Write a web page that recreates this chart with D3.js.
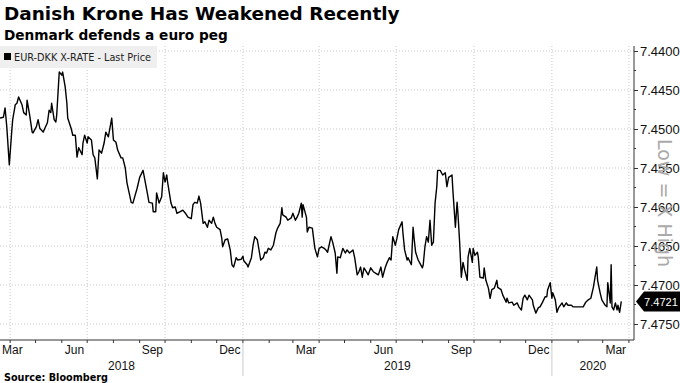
<!DOCTYPE html>
<html><head><meta charset="utf-8">
<script src="https://cdn.jsdelivr.net/npm/d3@7"></script>
<style>body{margin:0;background:#fff}svg{display:block}</style>
</head><body><svg id="c" width="680" height="383"></svg>
<script>
const title = "Danish Krone Has Weakened Recently";
const subtitle = "Denmark defends a euro peg";
const seriesName = "EUR-DKK X-RATE - Last Price";
const sourceText = "Source: Bloomberg";
const invertNote = "Low = X High";
const yTicks = [7.4400, 7.4450, 7.4500, 7.4550, 7.4600, 7.4650, 7.4700, 7.4750];
const yMinorTicks = [7.4425, 7.4475, 7.4525, 7.4575, 7.4625, 7.4675, 7.4725];
const labelMonths = ["Mar", "Jun", "Sep", "Dec"];
const years = ["2018", "2019", "2020"];
const domainStart = "2018-03-20", domainEnd = "2020-04-07";
const lastValue = 7.4721;

const dates = [
"2018-03-20","2018-03-24","2018-03-26","2018-03-28","2018-03-31","2018-04-03","2018-04-04","2018-04-07","2018-04-09","2018-04-11",
"2018-04-15","2018-04-17","2018-04-20","2018-04-21","2018-04-24","2018-04-27","2018-04-28","2018-05-02","2018-05-04","2018-05-06",
"2018-05-10","2018-05-12","2018-05-15","2018-05-17","2018-05-19","2018-05-20","2018-05-23","2018-05-25","2018-05-26","2018-05-29",
"2018-06-01","2018-06-02","2018-06-05","2018-06-07","2018-06-08","2018-06-12","2018-06-14","2018-06-17","2018-06-19","2018-06-21",
"2018-06-25","2018-06-26","2018-06-28","2018-07-01","2018-07-02","2018-07-06","2018-07-08","2018-07-10","2018-07-13","2018-07-15",
"2018-07-18","2018-07-21","2018-07-23","2018-07-26","2018-07-30","2018-08-01","2018-08-04","2018-08-06","2018-08-10","2018-08-12",
"2018-08-15","2018-08-17","2018-08-22","2018-08-24","2018-08-29","2018-09-01","2018-09-05","2018-09-10","2018-09-12","2018-09-16",
"2018-09-17","2018-09-20","2018-09-21","2018-09-24","2018-09-27","2018-09-29","2018-10-01","2018-10-03","2018-10-04","2018-10-08",
"2018-10-10","2018-10-13","2018-10-15","2018-10-19","2018-10-22","2018-10-25","2018-10-28","2018-11-01","2018-11-03","2018-11-05",
"2018-11-08","2018-11-10","2018-11-12","2018-11-15","2018-11-17","2018-11-20","2018-11-22","2018-11-25","2018-11-27","2018-11-29",
"2018-12-01","2018-12-05","2018-12-07","2018-12-08","2018-12-11","2018-12-14","2018-12-17","2018-12-19","2018-12-21","2018-12-24",
"2018-12-26","2018-12-30","2019-01-01","2019-01-02","2019-01-06","2019-01-07","2019-01-11","2019-01-13","2019-01-15","2019-01-18",
"2019-01-20","2019-01-22","2019-01-25","2019-01-27","2019-01-29","2019-01-31","2019-02-03","2019-02-06","2019-02-09","2019-02-11",
"2019-02-14","2019-02-16","2019-02-17","2019-02-21","2019-02-23","2019-02-27","2019-03-01","2019-03-04","2019-03-06","2019-03-08",
"2019-03-11","2019-03-12","2019-03-13","2019-03-17","2019-03-18","2019-03-20","2019-03-24","2019-03-25","2019-03-27","2019-03-30",
"2019-04-01","2019-04-04","2019-04-07","2019-04-09","2019-04-11","2019-04-15","2019-04-17","2019-04-20","2019-04-22","2019-04-23",
"2019-04-26","2019-04-29","2019-05-02","2019-05-04","2019-05-07","2019-05-11","2019-05-13","2019-05-16","2019-05-18","2019-05-20",
"2019-05-22","2019-05-24","2019-05-28","2019-05-29","2019-06-01","2019-06-04","2019-06-07","2019-06-10","2019-06-13","2019-06-15",
"2019-06-18","2019-06-20","2019-06-23","2019-06-25","2019-06-27","2019-06-30","2019-07-02","2019-07-04","2019-07-08","2019-07-09",
"2019-07-11","2019-07-14","2019-07-15","2019-07-19","2019-07-21","2019-07-22","2019-07-24","2019-07-27","2019-07-29","2019-08-01",
"2019-08-02","2019-08-04","2019-08-06","2019-08-08","2019-08-10","2019-08-12","2019-08-14","2019-08-16","2019-08-18","2019-08-19",
"2019-08-22","2019-08-25","2019-08-28","2019-08-30","2019-09-01","2019-09-05","2019-09-06","2019-09-09","2019-09-11","2019-09-12",
"2019-09-14","2019-09-16","2019-09-18","2019-09-20","2019-09-23","2019-09-24","2019-09-26","2019-09-29","2019-09-30","2019-10-02",
"2019-10-05","2019-10-06","2019-10-08","2019-10-12","2019-10-13","2019-10-15","2019-10-18","2019-10-20","2019-10-22","2019-10-25",
"2019-10-28","2019-10-29","2019-11-02","2019-11-04","2019-11-08","2019-11-09","2019-11-11","2019-11-15","2019-11-17","2019-11-21",
"2019-11-23","2019-11-26","2019-11-28","2019-11-30","2019-12-03","2019-12-05","2019-12-09","2019-12-10","2019-12-13","2019-12-16",
"2019-12-18","2019-12-21","2019-12-24","2019-12-26","2019-12-27","2019-12-30","2020-01-01","2020-01-02","2020-01-05","2020-01-07",
"2020-01-09","2020-01-13","2020-01-15","2020-01-18","2020-01-20","2020-01-24","2020-01-26","2020-02-01","2020-02-07","2020-02-10",
"2020-02-13","2020-02-16","2020-02-19","2020-02-21","2020-02-23","2020-02-24","2020-02-27","2020-02-29","2020-03-04","2020-03-06",
"2020-03-07","2020-03-10","2020-03-11","2020-03-12","2020-03-14","2020-03-16","2020-03-18","2020-03-19","2020-03-21","2020-03-23"
];
const values = [
7.4486,7.4485,7.4473,7.4497,7.4546,7.4501,7.4488,7.4469,7.4467,7.4459,
7.4469,7.4479,7.4482,7.4463,7.4482,7.4504,7.4505,7.4497,7.4488,7.4499,
7.4504,7.4499,7.4492,7.4476,7.4479,7.4467,7.4488,7.4491,7.4482,7.4427,
7.4431,7.4427,7.4446,7.4467,7.4486,7.4499,7.4508,7.4508,7.4536,7.4524,
7.4533,7.4518,7.4508,7.4518,7.4510,7.4514,7.4533,7.4537,7.4564,7.4527,
7.4531,7.4518,7.4504,7.4510,7.4486,7.4514,7.4517,7.4527,7.4537,7.4537,
7.4550,7.4569,7.4594,7.4595,7.4576,7.4562,7.4553,7.4582,7.4594,7.4595,
7.4606,7.4606,7.4582,7.4595,7.4587,7.4556,7.4568,7.4559,7.4568,7.4595,
7.4601,7.4600,7.4608,7.4606,7.4604,7.4608,7.4613,7.4615,7.4597,7.4594,
7.4595,7.4586,7.4595,7.4621,7.4619,7.4626,7.4617,7.4621,7.4613,7.4621,
7.4626,7.4629,7.4640,7.4651,7.4642,7.4641,7.4655,7.4674,7.4677,7.4665,
7.4668,7.4667,7.4663,7.4669,7.4674,7.4677,7.4665,7.4649,7.4638,7.4642,
7.4655,7.4668,7.4665,7.4658,7.4659,7.4653,7.4655,7.4649,7.4633,7.4627,
7.4621,7.4601,7.4610,7.4613,7.4617,7.4614,7.4608,7.4617,7.4613,7.4608,
7.4595,7.4613,7.4597,7.4613,7.4632,7.4626,7.4627,7.4636,7.4653,7.4664,
7.4653,7.4651,7.4653,7.4655,7.4658,7.4638,7.4645,7.4659,7.4685,7.4664,
7.4665,7.4653,7.4659,7.4655,7.4659,7.4655,7.4665,7.4687,7.4683,7.4677,
7.4690,7.4678,7.4685,7.4687,7.4678,7.4683,7.4685,7.4687,7.4677,7.4690,
7.4678,7.4672,7.4665,7.4668,7.4638,7.4649,7.4640,7.4629,7.4619,7.4633,
7.4655,7.4668,7.4665,7.4674,7.4626,7.4638,7.4658,7.4668,7.4672,7.4678,
7.4674,7.4651,7.4638,7.4645,7.4617,7.4649,7.4645,7.4595,7.4574,7.4553,
7.4553,7.4559,7.4556,7.4574,7.4562,7.4559,7.4578,7.4626,7.4594,7.4608,
7.4645,7.4690,7.4671,7.4681,7.4694,7.4664,7.4653,7.4671,7.4653,7.4662,
7.4658,7.4664,7.4690,7.4691,7.4678,7.4694,7.4704,7.4717,7.4706,7.4704,
7.4694,7.4703,7.4706,7.4713,7.4722,7.4717,7.4723,7.4722,7.4726,7.4723,
7.4728,7.4732,7.4717,7.4713,7.4719,7.4713,7.4719,7.4726,7.4736,7.4729,
7.4728,7.4722,7.4715,7.4715,7.4706,7.4697,7.4717,7.4710,7.4719,7.4735,
7.4729,7.4723,7.4728,7.4723,7.4726,7.4726,7.4728,7.4728,7.4728,7.4722,
7.4719,7.4717,7.4703,7.4690,7.4677,7.4694,7.4710,7.4719,7.4726,7.4728,
7.4697,7.4723,7.4674,7.4728,7.4732,7.4723,7.4732,7.4726,7.4735,7.4721
];

const parse = d3.utcParse("%Y-%m-%d");
const data = dates.map((d, i) => ({date: parse(d), value: values[i]}));

const svg = d3.select("#c");
const plotLeft = 0, plotRight = 634, plotTop = 46, plotBottom = 340;

const x = d3.scaleUtc().domain([parse(domainStart), parse(domainEnd)]).range([plotLeft, plotRight]);
const y = d3.scaleLinear().domain([7.44, 7.475]).range([51, 324]);

function fit(sel, w) {
  const n = sel.node();
  const fs = parseFloat(sel.attr("font-size"));
  const cur = n.getComputedTextLength();
  sel.attr("font-size", (fs * w / cur).toFixed(2));
}

// Titles
const t1 = svg.append("text").attr("x", 4).attr("y", 20).attr("font-family", "DejaVu Sans")
  .attr("font-weight", "bold").attr("font-size", 18).attr("fill", "#000").text(title);
fit(t1, 396);
const t2 = svg.append("text").attr("x", 4).attr("y", 40).attr("font-family", "DejaVu Sans")
  .attr("font-weight", "bold").attr("font-size", 14).attr("fill", "#000").text(subtitle);
fit(t2, 224);

// Gridlines
const g = svg.append("g");
g.selectAll("line.h").data(yTicks).join("line")
  .attr("x1", plotLeft).attr("x2", plotRight)
  .attr("y1", d => y(d)).attr("y2", d => y(d))
  .attr("stroke", "#c8c8c8").attr("stroke-dasharray", "1,2");
const quarterStarts = d3.utcMonth.range(parse("2018-04-01"), parse("2020-04-02"), 3);
g.selectAll("line.v").data(quarterStarts).join("line")
  .attr("x1", d => x(d)).attr("x2", d => x(d))
  .attr("y1", plotTop).attr("y2", plotBottom)
  .attr("stroke", "#c8c8c8").attr("stroke-dasharray", "1,2");

// Legend
svg.append("rect").attr("x", 0).attr("y", 46).attr("width", 157).attr("height", 22).attr("fill", "#efefef");
svg.append("rect").attr("x", 4).attr("y", 53).attr("width", 7).attr("height", 7).attr("fill", "#000");
const lt = svg.append("text").attr("x", 14).attr("y", 61).attr("font-family", "DejaVu Sans")
  .attr("font-size", 10).attr("fill", "#222").text(seriesName);
fit(lt, 137);

// Line
const line = d3.line().x(d => x(d.date)).y(d => y(d.value));
svg.append("path").datum(data).attr("d", line).attr("fill", "none")
  .attr("stroke", "#000").attr("stroke-width", 1.4).attr("stroke-linejoin", "round");

// Right axis
const ay = svg.append("g").attr("transform", `translate(${plotRight},0)`)
  .call(d3.axisRight(y).tickValues(yTicks).tickFormat(d3.format(".4f")).tickSize(4).tickPadding(2));
ay.select(".domain").remove();
ay.selectAll("text").attr("font-family", "Liberation Sans").attr("font-size", 13).attr("fill", "#111");
ay.selectAll("line").attr("stroke", "#333");
svg.append("g").selectAll("line").data(yMinorTicks).join("line")
  .attr("x1", plotRight).attr("x2", plotRight + 2).attr("y1", d => y(d)).attr("y2", d => y(d)).attr("stroke", "#333");
svg.append("line").attr("x1", plotRight).attr("x2", plotRight).attr("y1", plotTop).attr("y2", plotBottom)
  .attr("stroke", "#333");

// Inverted axis note
svg.append("text").attr("transform", `translate(658,203) rotate(90)`).attr("text-anchor", "middle")
  .attr("font-family", "DejaVu Sans").attr("font-size", 19).attr("fill", "#aaa").text(invertNote);

// Last value label
const ly = y(lastValue);
svg.append("path")
  .attr("d", `M${plotRight + 2},${ly} L${plotRight + 10},${ly - 10} L680,${ly - 10} L680,${ly + 10} L${plotRight + 10},${ly + 10} Z`)
  .attr("fill", "#000");
const lv = svg.append("text").attr("x", plotRight + 10).attr("y", ly + 4.5).attr("font-family", "Liberation Sans")
  .attr("font-size", 13).attr("fill", "#fff").text(d3.format(".4f")(lastValue));
fit(lv, 34);

// Bottom axis
svg.append("line").attr("x1", plotLeft).attr("x2", plotRight).attr("y1", plotBottom).attr("y2", plotBottom).attr("stroke", "#333");
const months = d3.utcMonth.range(parse("2018-04-01"), parse("2020-04-02"));
svg.append("g").selectAll("line").data(months).join("line")
  .attr("x1", d => x(d)).attr("x2", d => x(d)).attr("y1", plotBottom).attr("y2", plotBottom + 3).attr("stroke", "#333");

const labelled = d3.utcMonth.range(parse("2018-03-01"), parse("2020-04-01"))
  .filter(d => labelMonths.includes(d3.utcFormat("%b")(d)));
labelled.forEach(m => {
  const a = Math.max(x(m), plotLeft), b = Math.min(x(d3.utcMonth.offset(m, 1)), plotRight);
  let cx = (a + b) / 2;
  const t = svg.append("text").attr("y", 354).attr("font-family", "Liberation Sans").attr("font-size", 12)
    .attr("fill", "#111").attr("text-anchor", "middle").text(d3.utcFormat("%b")(m));
  const w = t.node().getComputedTextLength();
  cx = Math.max(cx, plotLeft + 2 + w / 2);
  t.attr("x", cx);
});

years.forEach(yr => {
  const s = parse(yr + "-01-01"), e = parse((+yr + 1) + "-01-01");
  const a = Math.max(x(s), plotLeft), b = Math.min(x(e), plotRight);
  svg.append("text").attr("x", (a + b) / 2).attr("y", 370).attr("font-family", "Liberation Sans")
    .attr("font-size", 12).attr("fill", "#111").attr("text-anchor", "middle").text(yr);
  if (x(s) > plotLeft) {
    svg.append("line").attr("x1", x(s)).attr("x2", x(s)).attr("y1", 343).attr("y2", 376).attr("stroke", "#ccc");
  }
});

// Source
const st = svg.append("text").attr("x", 4).attr("y", 381).attr("font-family", "DejaVu Sans")
  .attr("font-weight", "bold").attr("font-size", 11).attr("fill", "#000").text(sourceText);
fit(st, 104);
</script></body></html>
